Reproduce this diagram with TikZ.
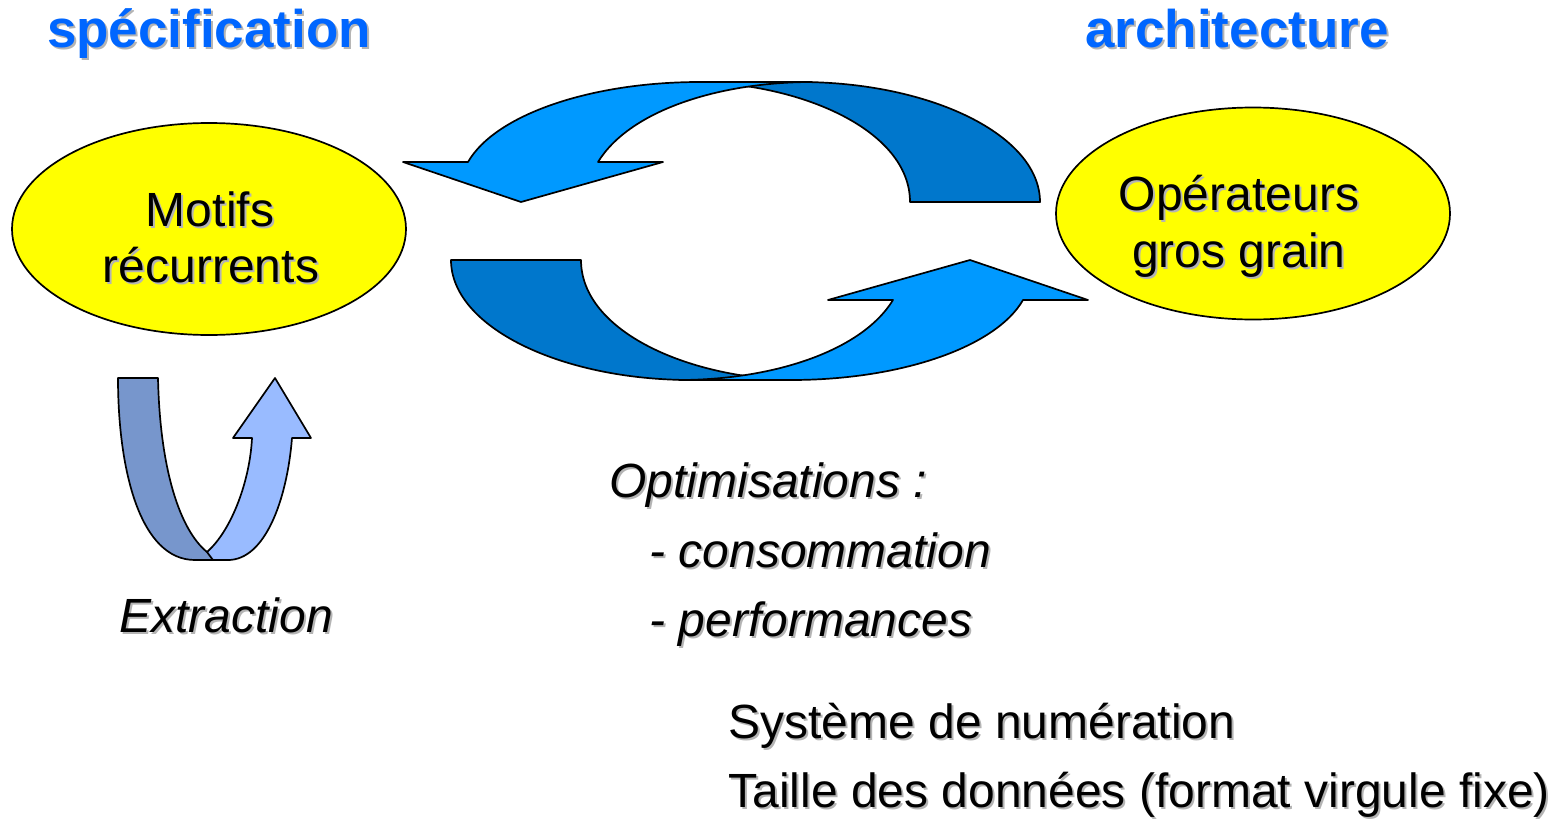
\documentclass[tikz,border=0pt]{standalone}
\usepackage{fontspec}
\setmainfont{Liberation Sans}
\usetikzlibrary{shapes.geometric}
\definecolor{ylw}{HTML}{FFFF00}
\definecolor{lblue}{HTML}{0099FF}
\definecolor{dblue}{HTML}{0077CC}
\definecolor{ulight}{HTML}{99BBFF}
\definecolor{udark}{HTML}{7796CC}
\definecolor{titleblue}{HTML}{0066FF}
\definecolor{shd}{HTML}{B4B4B4}
\newcommand\shtxt[5]{%
  \node[#2, anchor=#3, text=shd, xshift=1pt, yshift=-1pt] (#1s) at #4 {#5};
  \node[#2, anchor=#3] (#1) at #4 {#5};}
\begin{document}
\begin{tikzpicture}[x=0.5pt,y=-0.5pt,
  txt/.style={font=\fontsize{24}{29}\selectfont, inner sep=0pt, text=black},
  itxt/.style={font=\fontsize{24}{29}\selectfont\itshape, inner sep=0pt, text=black},
  ttl/.style={font=\fontsize{26.5}{32}\selectfont\bfseries, inner sep=0pt, text=titleblue},
  blob/.style={ellipse, draw=black, fill=ylw, line width=0.85pt, inner sep=0pt,
               minimum width=197pt, minimum height=106pt},
  band/.style={draw=black, line width=0.85pt, line join=round}]
\useasboundingbox (0,0) rectangle (1564,819);

% ellipses
\node[blob] (leftE) at (209,229) {};
\node[blob] (rightE) at (1253,213.5) {};

% circular arrows: top half, then a copy turned half a turn
\foreach \ang in {0,180}{
\begin{scope}[rotate around={\ang:(745.5,231)}]
\fill[band, fill=dblue] (910,202) -- (1040,202)
  .. controls (1040,135) and (930,82) .. (800,82) -- (690,82)
  .. controls (800,82) and (910,130) .. (910,202) -- cycle;
\fill[band, fill=lblue] (403,162) -- (468,162)
  .. controls (495,115) and (590,82) .. (700,82) -- (812,82)
  .. controls (720,82) and (630,110) .. (598,162)
  -- (663,162) -- (521,202) -- cycle;
\end{scope}}

% U-turn arrow (Extraction)
\fill[band, fill=udark] (118,378) -- (158,378)
  .. controls (160,470) and (180,530) .. (207,552)
  .. controls (214,556) and (221,559) .. (230,560)
  -- (195,560) .. controls (140,560) and (118,470) .. (118,378) -- cycle;
\fill[band, fill=ulight] (207,552) .. controls (232,530) and (250,480) .. (252,438)
  -- (233,438) -- (275,378) -- (311,438) -- (292,438)
  .. controls (287,500) and (265,560) .. (228,560) -- (213,560) -- cycle;

% texts
\shtxt{spec}{ttl}{base}{(209,47)}{spécification}
\shtxt{arch}{ttl}{base}{(1237,47)}{architecture}
\shtxt{mot1}{txt}{base}{(210,226.7)}{Motifs}
\shtxt{mot2}{txt}{base}{(211,282)}{récurrents}
\shtxt{op1}{txt}{base}{(1239,210)}{Opérateurs}
\shtxt{op2}{txt}{base}{(1239,267)}{gros grain}
\shtxt{extr}{itxt}{base west}{(119,632)}{Extraction}
\shtxt{opt}{itxt}{base west}{(609,497)}{Optimisations :}
\shtxt{cons}{itxt}{base west}{(649,567)}{- consommation}
\shtxt{perf}{itxt}{base west}{(649,636)}{- performances}
\shtxt{sys}{txt}{base west}{(728,738)}{Système de numération}
\shtxt{tail}{txt}{base west}{(728,807)}{Taille des données (format virgule fixe)}
\end{tikzpicture}
\end{document}
